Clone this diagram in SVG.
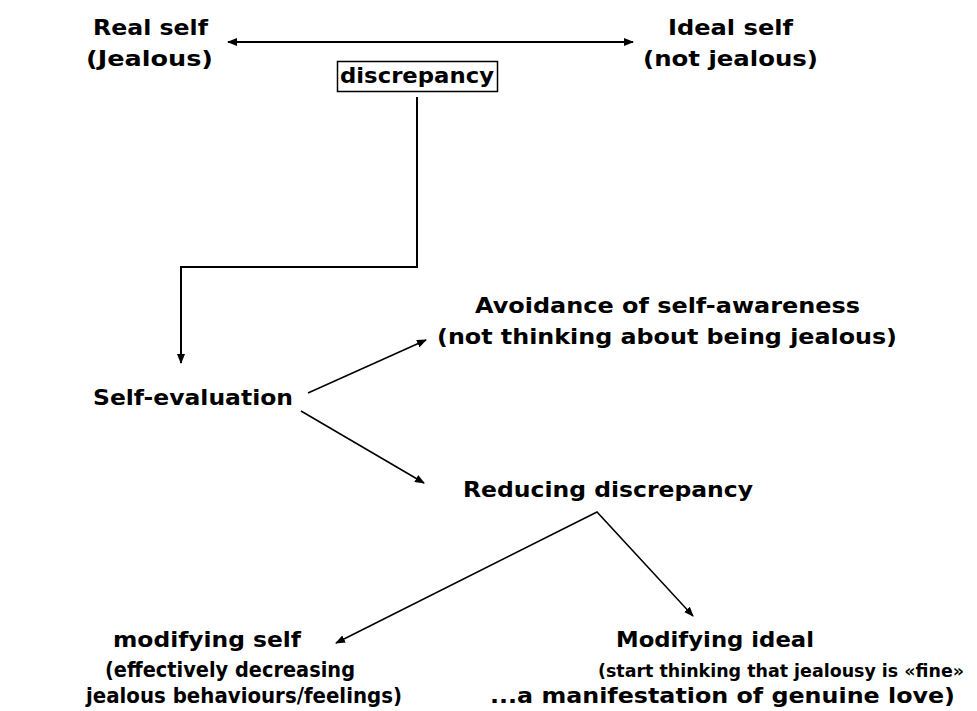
<svg xmlns="http://www.w3.org/2000/svg" width="977" height="711" viewBox="0 0 977 711">
<defs>
<style>
text{font-family:"DejaVu Sans","Liberation Sans",sans-serif;font-weight:bold;font-size:22px;fill:#000}
.s{font-size:18px}
.c{fill:none;stroke:#000;stroke-width:2}
.d{fill:none;stroke:#000;stroke-width:1.5}
</style>
<marker id="ah" markerWidth="10" markerHeight="8" refX="9" refY="4" orient="auto" markerUnits="userSpaceOnUse">
<path d="M0,0 L10,4 L0,8 Z" fill="#000"/>
</marker>
<marker id="as" markerWidth="10" markerHeight="8" refX="1" refY="4" orient="auto" markerUnits="userSpaceOnUse">
<path d="M10,0 L0,4 L10,8 Z" fill="#000"/>
</marker>
</defs>
<rect width="977" height="711" fill="#fff"/>
<g id="connectors">
<line class="c" x1="228" y1="42" x2="633" y2="42" marker-start="url(#as)" marker-end="url(#ah)"/>
<polyline class="c" points="417,97 417,267 181,267 181,363" marker-end="url(#ah)"/>
<line class="d" x1="308" y1="393" x2="426" y2="340" marker-end="url(#ah)"/>
<line class="d" x1="301" y1="411" x2="424" y2="483" marker-end="url(#ah)"/>
<polyline class="d" points="336,643 597,512 693,616" marker-start="url(#as)" marker-end="url(#ah)"/>
</g>
<g id="real-self">
<text x="93" y="35" textLength="115" lengthAdjust="spacingAndGlyphs">Real self</text>
<text x="86" y="66" textLength="127" lengthAdjust="spacingAndGlyphs">(Jealous)</text>
</g>
<g id="ideal-self">
<text x="668" y="35" textLength="125" lengthAdjust="spacingAndGlyphs">Ideal self</text>
<text x="643" y="66" textLength="175" lengthAdjust="spacingAndGlyphs">(not jealous)</text>
</g>
<g id="discrepancy">
<rect x="337.5" y="61.5" width="160" height="30" fill="#fff" stroke="#000" stroke-width="1.5"/>
<text x="340" y="83" textLength="154" lengthAdjust="spacingAndGlyphs">discrepancy</text>
</g>
<g id="self-evaluation">
<text x="93" y="405" textLength="200" lengthAdjust="spacingAndGlyphs">Self-evaluation</text>
</g>
<g id="avoidance">
<text x="475" y="313" textLength="385" lengthAdjust="spacingAndGlyphs">Avoidance of self-awareness</text>
<text x="437" y="344" textLength="460" lengthAdjust="spacingAndGlyphs">(not thinking about being jealous)</text>
</g>
<g id="reducing">
<text x="463" y="497" textLength="290" lengthAdjust="spacingAndGlyphs">Reducing discrepancy</text>
</g>
<g id="modifying-self">
<text x="113" y="647" textLength="188" lengthAdjust="spacingAndGlyphs">modifying self</text>
<text x="105" y="677" textLength="250" lengthAdjust="spacingAndGlyphs">(effectively decreasing</text>
<text x="86" y="703" textLength="316" lengthAdjust="spacingAndGlyphs">jealous behaviours/feelings)</text>
</g>
<g id="modifying-ideal">
<text x="616" y="647" textLength="198" lengthAdjust="spacingAndGlyphs">Modifying ideal</text>
<text class="s" x="598" y="677" textLength="366" lengthAdjust="spacingAndGlyphs">(start thinking that jealousy is «fine»</text>
<text x="490" y="703" textLength="465" lengthAdjust="spacingAndGlyphs">...a manifestation of genuine love)</text>
</g>
</svg>
